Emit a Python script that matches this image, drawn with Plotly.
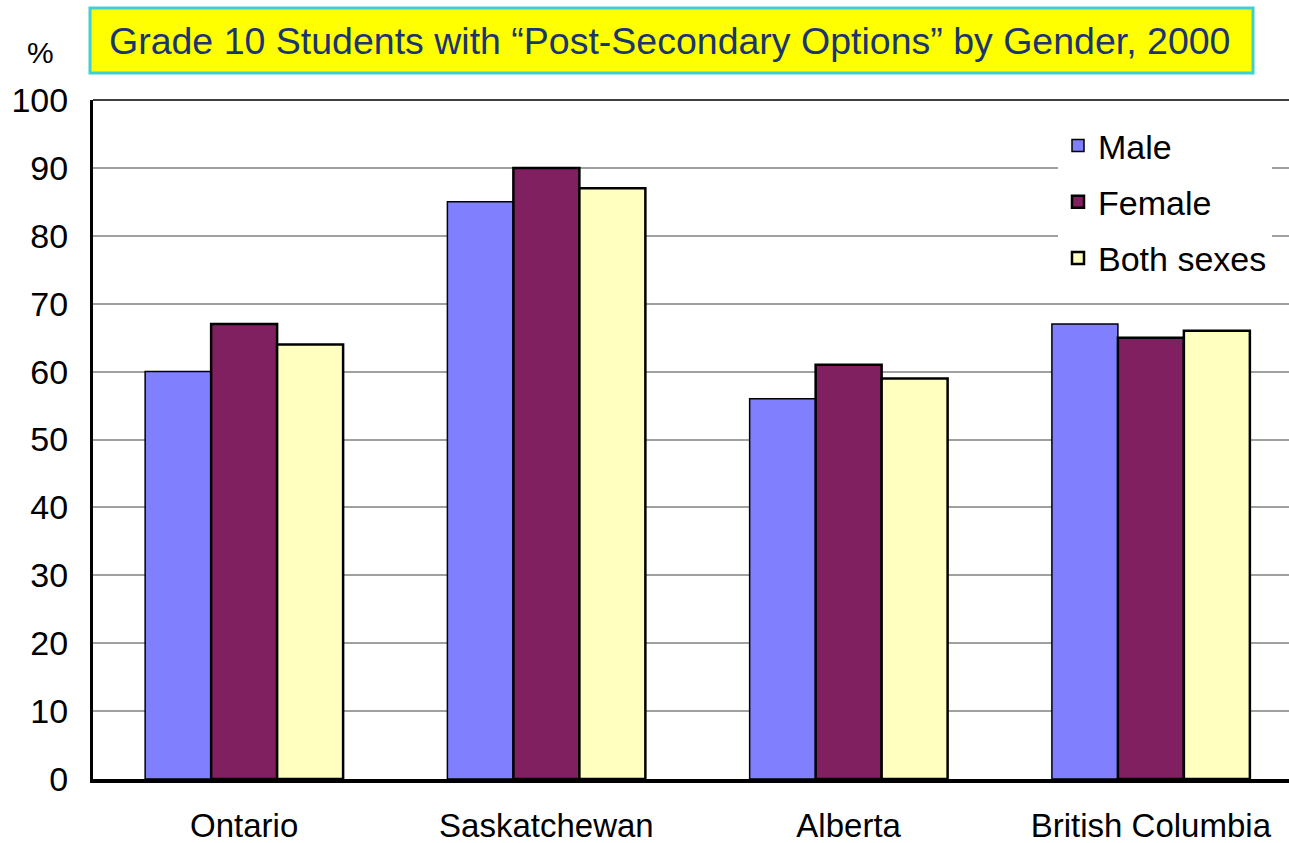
import plotly.graph_objects as go

categories = ["Ontario", "Saskatchewan", "Alberta", "British Columbia"]
male = [60, 85, 56, 67]
female = [67, 90, 61, 65]
both = [64, 87, 59, 66]
y_ticks = [0, 10, 20, 30, 40, 50, 60, 70, 80, 90, 100]

W, H = 1289, 843
L, R, T, B = 93, 0, 100, 64
pw, ph = W - L - R, H - T - B

def px(x):
    return (x - L) / pw

def py(y):
    return (H - B - y) / ph

FONT = "Liberation Sans, Arial, sans-serif"
FS = 34

fig = go.Figure()
series = [("Male", male, "#8080ff", 1.5), ("Female", female, "#802060", 2.5), ("Both sexes", both, "#ffffc0", 2.5)]
for name, vals, col, lw in series:
    fig.add_trace(go.Bar(
        x=categories, y=vals, name=name, legendgroup=name,
        marker=dict(color=col, line=dict(color="#000000", width=lw)),
    ))

fig.update_layout(
    width=W, height=H,
    margin=dict(l=L, r=R, t=T, b=B, autoexpand=False),
    paper_bgcolor="white", plot_bgcolor="white",
    barmode="group", bargap=0.345, bargroupgap=0,
    font=dict(family=FONT, color="black", size=FS),
    showlegend=True,
    legend=dict(
        x=px(1058), y=py(117), xanchor="left", yanchor="top",
        bgcolor="white", borderwidth=0, traceorder="grouped",
        tracegroupgap=9, font=dict(size=FS, family=FONT),
    ),
    xaxis=dict(
        range=[-0.5, 3.5 - 13 / 302], showgrid=False, automargin=False,
        showline=True, linecolor="black", linewidth=4,
        ticks="", ticklabelstandoff=14, tickfont=dict(size=33),
    ),
    yaxis=dict(
        range=[0, 100], tickvals=y_ticks, showgrid=True, automargin=False,
        gridcolor="#a0a0a0", gridwidth=2, zeroline=False,
        showline=True, linecolor="black", linewidth=3,
        ticks="", ticklabelstandoff=15, tickfont=dict(size=FS),
    ),
    shapes=[
        dict(type="line", xref="paper", yref="paper", x0=0, x1=1, y0=1, y1=1,
             line=dict(color="#404040", width=2)),
        dict(type="rect", xref="paper", yref="paper",
             x0=px(90), x1=px(1253), y0=py(73), y1=py(8),
             fillcolor="#ffff00", line=dict(color="#40d0d0", width=3), layer="above"),
    ],
    annotations=[
        dict(text="Grade 10 Students with “Post-Secondary Options” by Gender, 2000",
             xref="paper", yref="paper", x=px(669), y=py(41),
             xanchor="center", yanchor="middle", showarrow=False,
             font=dict(size=37.5, color="#1a3570", family=FONT)),
        dict(text="%", xref="paper", yref="paper", x=px(40), y=py(52),
             xanchor="center", yanchor="middle", showarrow=False,
             font=dict(size=30, color="black", family=FONT)),
    ],
)

fig.write_html(
    "out.html",
    config={"displayModeBar": False},
    post_script="document.body.style.margin='0';document.body.style.overflow='hidden';",
)
